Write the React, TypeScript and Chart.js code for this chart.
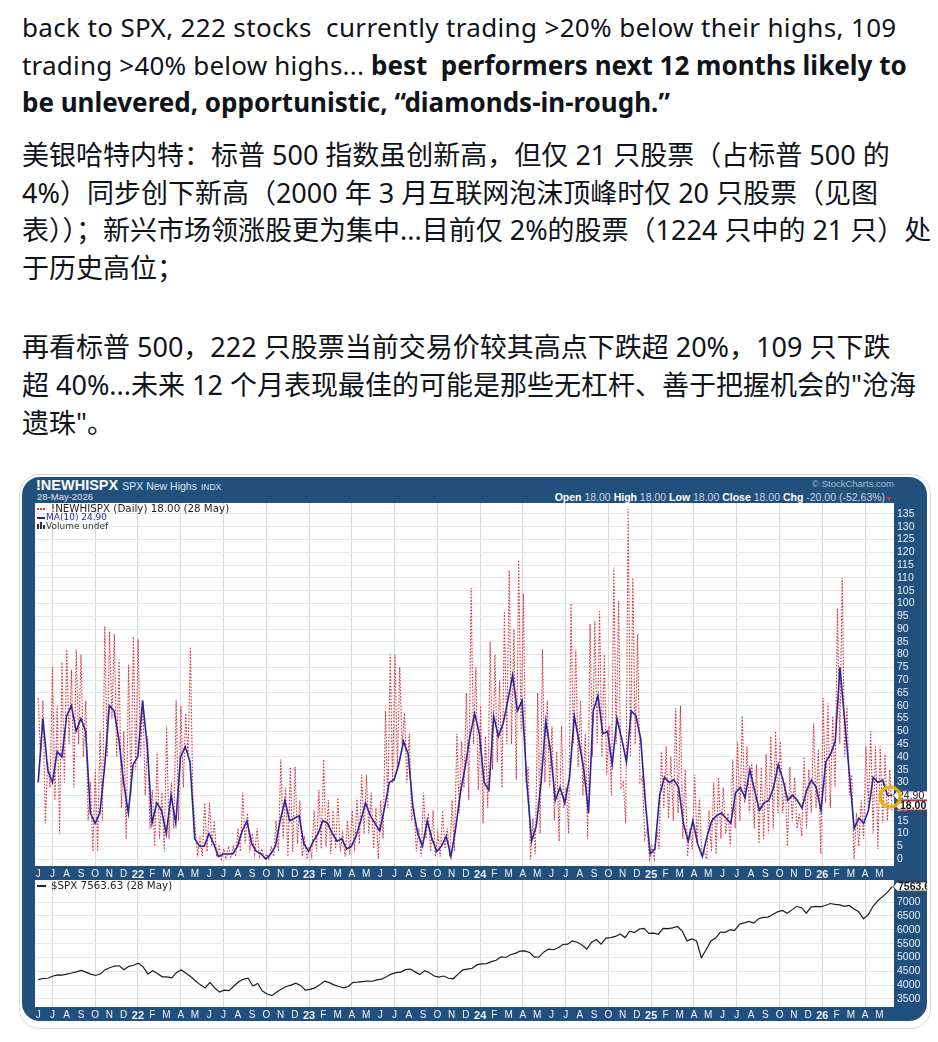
import React, { useEffect, useRef } from "react";
import { Chart, registerables } from "chart.js";

Chart.register(...registerables);

// ---------- DATA ----------
// Time axis: months counted from 1 Jun 2021; last data point 28 May 2026.
const START_YEAR = 2021;
const START_MONTH = 5; // June (0 = Jan)
const SPAN_MONTHS = 59.9;
const MONTH_LETTERS = ["J", "F", "M", "A", "M", "J", "J", "A", "S", "O", "N", "D"];
const MONTH_TICKS = [
  0, 1, 2, 3, 4, 5, 6, 7, 8, 9, 10, 11, 12, 13, 14, 15, 16, 17, 18, 19, 20, 21, 22, 23, 24, 25, 26, 27, 28, 29,
  30, 31, 32, 33, 34, 35, 36, 37, 38, 39, 40, 41, 42, 43, 44, 45, 46, 47, 48, 49, 50, 51, 52, 53, 54, 55, 56, 57, 58, 59,
];
const NH_TICKS = [0, 5, 10, 15, 20, 25, 30, 35, 40, 45, 50, 55, 60, 65, 70, 75, 80, 85, 90, 95, 100, 105, 110, 115, 120, 125, 130, 135];
const SPX_TICKS = [3500, 4000, 4500, 5000, 5500, 6000, 6500, 7000];

// !NEWHISPX daily new highs (6 readings per month, Jun 2021 .. May 2026)
const NEW_HIGHS = [
  63, 40, 62, 14, 38, 28, // Jun 21
  75, 23, 60, 10, 77, 30,
  82, 45, 74, 28, 82, 45,
  80, 40, 62, 15, 30, 3,
  35, 3, 50, 15, 91, 40,
  89, 55, 88, 40, 78, 20,
  50, 8, 76, 25, 87, 35,
  86, 40, 62, 25, 48, 12, // Jan 22
  27, 5, 42, 8, 26, 3,
  52, 8, 30, 12, 62, 15,
  60, 28, 57, 40, 83, 25,
  12, 2, 8, 1, 22, 3,
  22, 5, 15, 1, 5, 0,
  4, 0, 5, 1, 5, 1,
  12, 3, 26, 6, 18, 4,
  10, 2, 12, 1, 4, 0,
  2, 0, 5, 1, 15, 3,
  39, 8, 28, 1, 36, 3,
  36, 6, 23, 1, 8, 0,
  5, 1, 19, 3, 27, 4, // Jan 23
  39, 5, 23, 2, 19, 4,
  24, 3, 10, 1, 15, 2,
  19, 3, 24, 6, 33, 10,
  33, 10, 26, 4, 20, 0,
  23, 8, 58, 20, 80, 30,
  80, 35, 75, 45, 57, 30,
  49, 15, 20, 3, 12, 1,
  26, 8, 18, 3, 19, 1,
  10, 1, 19, 4, 12, 1,
  23, 3, 49, 18, 46, 28,
  65, 23, 106, 45, 75, 27,
  60, 14, 48, 20, 85, 35, // Jan 24
  80, 38, 70, 28, 97, 45,
  113, 45, 90, 31, 117, 50,
  104, 30, 36, 0, 16, 2,
  65, 10, 82, 30, 62, 28,
  52, 15, 42, 7, 52, 20,
  28, 10, 100, 45, 82, 36,
  62, 25, 49, 8, 92, 40,
  93, 45, 97, 40, 80, 33,
  52, 25, 114, 45, 101, 28,
  30, 14, 137, 40, 110, 45,
  88, 30, 32, 8, 12, 0,
  5, 0, 12, 4, 42, 20, // Jan 25
  44, 16, 40, 15, 59, 18,
  60, 8, 35, 1, 12, 4,
  33, 6, 24, 1, 3, 0,
  19, 3, 30, 2, 32, 8,
  28, 10, 18, 5, 39, 12,
  46, 15, 56, 22, 44, 18,
  38, 12, 37, 6, 36, 8,
  41, 10, 48, 12, 50, 18,
  46, 18, 30, 5, 36, 15,
  32, 12, 18, 9, 40, 12,
  35, 18, 53, 20, 43, 2,
  63, 22, 61, 20, 56, 28, // Jan 26
  98, 45, 110, 40, 60, 25,
  33, 0, 18, 5, 23, 8,
  44, 20, 50, 10, 44, 4,
  44, 14, 41, 15, 35, 18,
];

// MA(10) of new highs (3 readings per month + last value)
const NEW_HIGHS_MA10 = [
  30, 55, 35, 30, 42, 40, 56, 60, 50, 55, 50, 18, 14, 18, 36, 60, 58, 47, 30, 18, 37,
  40, 62, 44, 14, 22, 19, 10, 25, 14, 40, 44, 38, 8, 5, 5, 10, 6, 1, 2, 2, 2,
  5, 11, 15, 6, 3, 2, 0, 2, 5, 15, 23, 15, 16, 17, 6,
  3, 7, 10, 15, 14, 10, 7, 8, 4, 5, 9, 15, 22, 17, 14, 11, 20, 30, 31, 37, 46,
  41, 20, 10, 5, 15, 8, 3, 5, 9, 1, 12, 26, 36, 48, 57,
  49, 30, 27, 56, 48, 53, 62, 72, 58, 62, 30, 7, 13, 30, 54, 42, 23, 28,
  22, 32, 56, 46, 35, 18, 58, 64, 49, 50, 37, 55, 47, 38, 58, 56, 47, 22,
  2, 4, 25, 32, 30, 31, 28, 14, 7, 15, 6, 1, 9, 15, 17, 18, 16, 14,
  26, 28, 24, 35, 27, 19, 22, 23, 28, 37, 31, 23, 25, 23, 20, 27, 31, 28,
  19, 38, 41, 46, 75, 54, 33, 12, 16, 14, 19, 32, 30, 31, 25,
  24.9,
];

// $SPX close (3 readings per month, Jun 2021 .. 28 May 2026)
const SPX = [
  4200, 4240, 4250, 4320, 4370, 4360, 4400, 4440, 4480, 4530, 4470, 4400, 4350, 4400, 4560, 4630, 4690, 4700, 4560, 4680, 4720,
  4790, 4660, 4400, 4520, 4420, 4300, 4300, 4260, 4460, 4550, 4430, 4300, 4150, 4010, 3900, 4100, 3900, 3750,
  3820, 3800, 3960, 4120, 4210, 4250, 3970, 4060, 3790, 3680, 3620, 3750, 3860, 3950, 4000, 4070, 3990, 3820,
  3850, 3900, 4010, 4140, 4090, 4010, 3950, 3900, 3950, 4100, 4110, 4130, 4150, 4140, 4190, 4220, 4300, 4400,
  4450, 4470, 4560, 4580, 4480, 4380, 4520, 4450, 4330, 4290, 4330, 4250, 4230, 4400, 4550, 4580, 4610, 4740,
  4770, 4780, 4850, 4900, 5020, 5000, 5100, 5150, 5230, 5240, 5180, 5010, 5020, 5200, 5300, 5280, 5350, 5470,
  5480, 5600, 5550, 5450, 5300, 5550, 5650, 5480, 5700, 5720, 5760, 5850, 5720, 5950, 5900, 6030, 6050, 5870,
  5880, 5840, 6050, 6040, 6070, 6120, 5950, 5600, 5670, 5600, 4990, 5280, 5600, 5700, 5920, 5910, 6000, 5980,
  6200, 6250, 6300, 6240, 6400, 6450, 6460, 6550, 6650, 6700, 6600, 6720, 6850, 6800, 6600, 6820, 6850, 6830,
  6880, 6950, 6920, 6900, 6850, 6880, 6750, 6650, 6400, 6550, 6850, 7050, 7200, 7350, 7563.63,
];

// ---------- STYLE ----------
const NAVY = "#22507d";
const AXIS_FONT = '"Liberation Sans", Arial, sans-serif';
const LEGEND_FONT = '"DejaVu Sans", Verdana, sans-serif';
const RED = "#e0303a";
const BLUE = "#25259c";

const FRAME_L = 22;
const FRAME_R = 927;
const FRAME_W = FRAME_R - FRAME_L;

function toPoints(values: number[]) {
  const n = values.length;
  return values.map((v, i) => ({ x: (i * SPAN_MONTHS) / (n - 1), y: v }));
}

function isJan(m: number) {
  return (START_MONTH + m) % 12 === 0;
}

function monthLabel(m: number) {
  const mo = (START_MONTH + m) % 12;
  if (mo === 0) return String((START_YEAR + Math.floor((START_MONTH + m) / 12)) % 100);
  return MONTH_LETTERS[mo];
}

function xAxis(height: number) {
  return {
    type: "linear",
    min: -0.224,
    max: 60.03,
    afterBuildTicks: (s: any) => {
      s.ticks = MONTH_TICKS.map((v) => ({ value: v }));
    },
    afterFit: (s: any) => {
      s.height = height;
      s.paddingLeft = 0;
      s.paddingRight = 0;
    },
    ticks: {
      autoSkip: false,
      maxRotation: 0,
      minRotation: 0,
      padding: 2,
      color: "#eef3f8",
      font: (ctx: any) => {
        const jan = ctx.tick ? isJan(ctx.tick.value) : false;
        return { family: AXIS_FONT, size: jan ? 11 : 10, weight: jan ? "bold" : "normal" };
      },
      callback: (v: any) => monthLabel(Number(v)),
    },
    grid: {
      drawTicks: false,
      color: (ctx: any) =>
        ctx.tick && (((ctx.tick.value % 3) + 3) % 3) === 1 ? "#d5d7da" : "rgba(0,0,0,0)",
      lineWidth: 1,
    },
    border: { display: false },
  };
}

function yAxis(min: number, max: number, ticks: number[]) {
  return {
    type: "linear",
    position: "right",
    min,
    max,
    afterBuildTicks: (s: any) => {
      s.ticks = ticks.map((v) => ({ value: v }));
    },
    afterFit: (s: any) => {
      s.width = FRAME_R - 894;
      s.paddingTop = 0;
      s.paddingBottom = 0;
    },
    ticks: {
      autoSkip: false,
      color: "#e9eff6",
      padding: 3,
      font: { family: AXIS_FONT, size: 10.5 },
      callback: (v: any) => String(v),
    },
    grid: { drawTicks: false, color: "#e6e7e9", lineWidth: 1 },
    border: { display: false },
  };
}

function drawValueBox(ctx: CanvasRenderingContext2D, x: number, y: number, text: string, border: string, bold: boolean) {
  const h = 4.6;
  const w = 40;
  ctx.save();
  ctx.beginPath();
  ctx.moveTo(x, y);
  ctx.lineTo(x + 4, y - h);
  ctx.lineTo(x + w, y - h);
  ctx.lineTo(x + w, y + h);
  ctx.lineTo(x + 4, y + h);
  ctx.closePath();
  ctx.fillStyle = "#ffffff";
  ctx.fill();
  ctx.strokeStyle = border;
  ctx.lineWidth = 1;
  ctx.stroke();
  ctx.fillStyle = "#111";
  ctx.font = `${bold ? "bold " : ""}10.5px ${AXIS_FONT}`;
  ctx.textBaseline = "middle";
  ctx.textAlign = "left";
  ctx.fillText(text, x + 5, y + 0.5);
  ctx.restore();
}

const whiteArea = {
  id: "whiteArea",
  beforeDraw(chart: any) {
    const { ctx, chartArea: a } = chart;
    ctx.save();
    ctx.fillStyle = "#ffffff";
    ctx.fillRect(a.left, a.top, a.right - a.left, a.bottom - a.top);
    ctx.restore();
  },
};

const upperMarks = {
  id: "upperMarks",
  afterDraw(chart: any) {
    const { ctx, chartArea: a, scales } = chart;
    const maLast = NEW_HIGHS_MA10[NEW_HIGHS_MA10.length - 1];
    const nhLast = NEW_HIGHS[NEW_HIGHS.length - 1];
    const yMa = scales.y.getPixelForValue(maLast);
    drawValueBox(ctx, a.right - 1, yMa, maLast.toFixed(2), BLUE, false);
    drawValueBox(ctx, a.right + 1, yMa + 10, nhLast.toFixed(2), "#d01818", true);
    const xl = scales.x.getPixelForValue(SPAN_MONTHS);
    ctx.save();
    ctx.beginPath();
    ctx.arc(xl - 2, yMa + 1.5, 10, 0, Math.PI * 2);
    ctx.strokeStyle = "rgba(232, 176, 8, 0.92)";
    ctx.lineWidth = 3.5;
    ctx.stroke();
    ctx.restore();
  },
};

const lowerMarks = {
  id: "lowerMarks",
  afterDraw(chart: any) {
    const { ctx, chartArea: a, scales } = chart;
    const last = SPX[SPX.length - 1];
    const y = Math.max(scales.y.getPixelForValue(last), 5);
    drawValueBox(ctx, a.right - 1, y, last.toFixed(2), "#333", true);
  },
};

const UPPER_TOP = 503;
const UPPER_BOTTOM = 880;
const LOWER_TOP = 880;
const LOWER_BOTTOM = 1021;

export default function App() {
  const upperRef = useRef<HTMLCanvasElement>(null);
  const lowerRef = useRef<HTMLCanvasElement>(null);

  useEffect(() => {
    const upper = new Chart(upperRef.current as HTMLCanvasElement, {
      type: "line",
      data: {
        datasets: [
          {
            label: "MA(10)",
            data: toPoints(NEW_HIGHS_MA10),
            borderColor: BLUE,
            borderWidth: 1.6,
            pointRadius: 0,
            tension: 0,
          },
          {
            label: "!NEWHISPX",
            data: toPoints(NEW_HIGHS),
            borderColor: RED,
            borderWidth: 1.1,
            borderDash: [1.6, 1.6],
            pointRadius: 0,
            tension: 0,
          },
        ],
      },
      options: {
        responsive: false,
        animation: false,
        events: [],
        layout: { padding: { left: 13, right: 0, top: 0, bottom: 0 } },
        plugins: { legend: { display: false }, tooltip: { enabled: false } },
        scales: {
          x: xAxis(14),
          y: yAxis(-2.7, 139.3, NH_TICKS),
        },
      } as any,
      plugins: [whiteArea, upperMarks],
    } as any);

    const lower = new Chart(lowerRef.current as HTMLCanvasElement, {
      type: "line",
      data: {
        datasets: [
          {
            label: "$SPX",
            data: toPoints(SPX),
            borderColor: "#1c1c1c",
            borderWidth: 1.2,
            pointRadius: 0,
            tension: 0,
          },
        ],
      },
      options: {
        responsive: false,
        animation: false,
        events: [],
        layout: { padding: { left: 13, right: 0, top: 0, bottom: 0 } },
        plugins: { legend: { display: false }, tooltip: { enabled: false } },
        scales: {
          x: xAxis(14),
          y: yAxis(3210, 7800, SPX_TICKS),
        },
      } as any,
      plugins: [whiteArea, lowerMarks],
    } as any);

    return () => {
      upper.destroy();
      lower.destroy();
    };
  }, []);

  const line = (top: number, extra?: React.CSSProperties): React.CSSProperties => ({
    position: "absolute",
    left: 22,
    top,
    whiteSpace: "nowrap",
    fontFamily: '"Noto Sans", "Noto Sans CJK SC", sans-serif',
    fontSize: 26,
    lineHeight: "38px",
    color: "#0f1419",
    ...extra,
  });
  const zh = (top: number) => line(top, { fontSize: 27 });
  const reg: React.CSSProperties = { letterSpacing: "0.35px" };

  const small = (left: number, top: number, extra?: React.CSSProperties): React.CSSProperties => ({
    position: "absolute",
    left,
    top,
    whiteSpace: "nowrap",
    lineHeight: "12px",
    ...extra,
  });

  return (
    <div style={{ position: "absolute", left: 0, top: 0, width: 938, height: 1042, background: "#fff", overflow: "hidden" }}>
      {/* tweet text */}
      <div style={line(8, reg)}>back to SPX, 222 stocks&nbsp; currently trading &gt;20% below their highs, 109</div>
      <div style={line(46)}>
        <span style={{ letterSpacing: "0.2px" }}>trading &gt;40% below highs... </span>
        <b>best&nbsp; performers next 12 months likely to</b>
      </div>
      <div style={line(83)}>
        <b>be unlevered, opportunistic, “diamonds-in-rough.”</b>
      </div>
      <div style={zh(136)}>美银哈特内特：标普 500 指数虽创新高，但仅 21 只股票（占标普 500 的</div>
      <div style={zh(174)}>4%）同步创下新高（2000 年 3 月互联网泡沫顶峰时仅 20 只股票（见图</div>
      <div style={zh(211)}>表））；新兴市场领涨股更为集中...目前仅 2%的股票（1224 只中的 21 只）处</div>
      <div style={zh(249)}>于历史高位；</div>
      <div style={zh(328)}>再看标普 500，222 只股票当前交易价较其高点下跌超 20%，109 只下跌</div>
      <div style={zh(366)}>超 40%...未来 12 个月表现最佳的可能是那些无杠杆、善于把握机会的"沧海</div>
      <div style={zh(404)}>遗珠"。</div>

      {/* chart frame */}
      <div
        style={{
          position: "absolute",
          left: 19,
          top: 474,
          width: FRAME_W + 5,
          height: 553,
          border: "1px solid #d3dbe0",
          borderRadius: 20,
        }}
      />
      <div
        style={{
          position: "absolute",
          left: FRAME_L,
          top: 477,
          width: FRAME_W,
          height: LOWER_BOTTOM - 477,
          background: NAVY,
          borderRadius: 18,
        }}
      />

      {/* header */}
      <div style={small(36, 477, { fontFamily: AXIS_FONT, color: "#fff", fontSize: 14.5, fontWeight: "bold", lineHeight: "16px" })}>
        !NEWHISPX{" "}
        <span style={{ fontWeight: "normal", fontSize: 10.5, color: "#dbe5ef" }}>SPX New Highs</span>{" "}
        <span style={{ fontWeight: "normal", fontSize: 8.5, color: "#dbe5ef" }}>INDX</span>
      </div>
      <div style={small(37, 491, { fontFamily: AXIS_FONT, color: "#dfe7ef", fontSize: 9.5, lineHeight: "11px" })}>28-May-2026</div>
      <div style={small(0, 478, { fontFamily: AXIS_FONT, color: "#a9bdd2", fontSize: 9.5, width: 894, textAlign: "right", lineHeight: "11px" })}>
        © StockCharts.com
      </div>
      <div style={small(0, 491, { fontFamily: AXIS_FONT, color: "#c9d6e3", fontSize: 10.5, width: 892, textAlign: "right", lineHeight: "12px" })}>
        <b style={{ color: "#fff" }}>Open</b> 18.00 <b style={{ color: "#fff" }}>High</b> 18.00 <b style={{ color: "#fff" }}>Low</b> 18.00{" "}
        <b style={{ color: "#fff" }}>Close</b> 18.00 <b style={{ color: "#fff" }}>Chg</b> -20.00 (-52.63%)
        <span style={{ color: "#e23030", fontSize: 7 }}>▼</span>
      </div>

      {/* charts */}
      <canvas
        ref={upperRef}
        width={FRAME_W}
        height={UPPER_BOTTOM - UPPER_TOP}
        style={{ position: "absolute", left: FRAME_L, top: UPPER_TOP, width: FRAME_W, height: UPPER_BOTTOM - UPPER_TOP }}
      />
      <canvas
        ref={lowerRef}
        width={FRAME_W}
        height={LOWER_BOTTOM - LOWER_TOP}
        style={{ position: "absolute", left: FRAME_L, top: LOWER_TOP, width: FRAME_W, height: LOWER_BOTTOM - LOWER_TOP }}
      />

      {/* upper legend */}
      <div style={small(37, 503, { fontFamily: LEGEND_FONT, fontSize: 10.3, color: "#222", lineHeight: "11px" })}>
        <span style={{ display: "inline-block", width: 8, borderTop: `2px dotted ${RED}`, verticalAlign: "middle", marginRight: 6 }} />
        !NEWHISPX (Daily) 18.00 (28 May)
      </div>
      <div style={small(37, 512, { fontFamily: LEGEND_FONT, fontSize: 9, color: BLUE, lineHeight: "10px" })}>
        <span style={{ display: "inline-block", width: 8, borderTop: `2px solid ${BLUE}`, verticalAlign: "middle", marginRight: 1 }} />
        MA(10) 24.90
      </div>
      <div style={small(37, 521, { fontFamily: LEGEND_FONT, fontSize: 9, color: "#333", lineHeight: "10px" })}>
        <span style={{ display: "inline-block", width: 2, height: 5, background: "#333", marginRight: 1 }} />
        <span style={{ display: "inline-block", width: 2, height: 7, background: "#333", marginRight: 1 }} />
        <span style={{ display: "inline-block", width: 2, height: 4, background: "#333", marginRight: 1 }} />
        Volume undef
      </div>

      {/* lower legend */}
      <div style={small(37, 880, { fontFamily: LEGEND_FONT, fontSize: 10.3, color: "#222", lineHeight: "11px" })}>
        <span style={{ display: "inline-block", width: 9, borderTop: "2px solid #222", verticalAlign: "middle", marginRight: 5 }} />
        $SPX 7563.63 (28 May)
      </div>
    </div>
  );
}
